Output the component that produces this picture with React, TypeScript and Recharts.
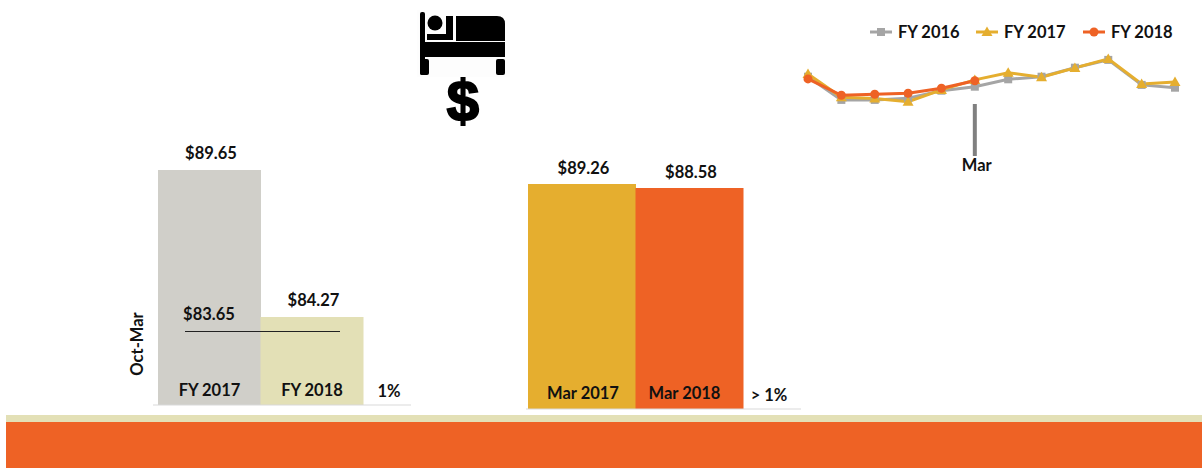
import React from 'react';
import {
    BarChart, Bar, LineChart, Line, XAxis, YAxis, Cell, LabelList, Legend, ReferenceLine,
} from 'recharts';

const FONT = 'Lato, sans-serif';
const INK = '#111111';
const W = 1202;
const H = 468;

// Oct-Mar bars
const periodCategories = ['FY 2017', 'FY 2018'];
const periodValues = [89.65, 84.27];
const periodColors = ['#D0CFC9', '#E3E0B6'];
const periodTarget = 83.65;

// March bars
const marchCategories = ['Mar 2017', 'Mar 2018'];
const marchValues = [89.26, 88.58];
const marchColors = ['#E5AE2F', '#EE6225'];

// Monthly trend
const months = ['Oct', 'Nov', 'Dec', 'Jan', 'Feb', 'Mar', 'Apr', 'May', 'Jun', 'Jul', 'Aug', 'Sep'];
const fy2016 = [90.9, 79.3, 79.3, 80.1, 83.9, 85.9, 89.6, 90.9, 95.4, 99.3, 86.8, 85.4];
const fy2017 = [92.3, 80.6, 80.0, 78.4, 84.3, 89.3, 92.9, 90.6, 95.3, 99.8, 87.3, 88.3];
const fy2018 = [89.8, 81.6, 82.1, 82.6, 85.1, 88.9];

const GRAY = '#A5A5A5';
const YELLOW = '#E5AE2F';
const ORANGE = '#EE6225';

const periodData = periodCategories.map((name, i) => ({ name, value: periodValues[i] }));
const marchData = marchCategories.map((name, i) => ({ name, value: marchValues[i] }));
const trendData = months.map((month, i) => ({
    month,
    'FY 2016': fy2016[i],
    'FY 2017': fy2017[i],
    'FY 2018': fy2018[i] ?? null,
}));

const labelStyle = { fill: INK, fontSize: 16.5, fontWeight: 700, fontFamily: FONT };
const money = (v: any) => `$${Number(v).toFixed(2)}`;
const layer: React.CSSProperties = { position: 'absolute', left: 0, top: 0 };

/* Markers */
const SquareDot = ({ cx, cy }: any) => <rect x={cx - 4} y={cy - 4} width={8} height={8} fill={GRAY} />;
const TriangleDot = ({ cx, cy }: any) => <path d={`M${cx} ${cy - 5.5}L${cx + 5.5} ${cy + 4}L${cx - 5.5} ${cy + 4}Z`} fill={YELLOW} />;
const CircleDot = ({ cx, cy, value }: any) => (value == null ? <g /> : <circle cx={cx} cy={cy} r={4.5} fill={ORANGE} />);

const legendItems = [
    { name: 'FY 2016', color: GRAY, left: 870, mark: <rect x={7} y={2} width={8} height={8} fill={GRAY} /> },
    { name: 'FY 2017', color: YELLOW, left: 976, mark: <path d="M11 0.5L16.5 10L5.5 10Z" fill={YELLOW} /> },
    { name: 'FY 2018', color: ORANGE, left: 1083, mark: <circle cx={11} cy={6} r={4.5} fill={ORANGE} /> },
];

/* Zero height so the legend takes nothing from the plot area */
const TrendLegend = () => (
    <div style={{ position: 'relative', height: 0 }}>
        {legendItems.map(item => (
            <div key={item.name} style={{ position: 'absolute', left: item.left, top: 0, display: 'flex', alignItems: 'center', gap: 6, height: 24 }}>
                <svg width={22} height={12}>
                    <line x1={0} x2={22} y1={6} y2={6} stroke={item.color} strokeWidth={3} />
                    {item.mark}
                </svg>
                <span style={{ fontFamily: FONT, fontWeight: 700, fontSize: 16.5, color: INK, whiteSpace: 'nowrap' }}>{item.name}</span>
            </div>
        ))}
    </div>
);

/* Target line runs past the bar centres, with its own label */
const TargetLine = ({ x1, x2, y1 }: any) => {
    const y = Math.round(y1 - 3) + 0.5;
    return (
        <g>
            <line x1={x1 + 32} x2={x2 - 71} y1={y} y2={y} stroke="#222222" strokeWidth={1} />
            <text x={209} y={y - 12} textAnchor="middle" style={labelStyle}>{money(periodTarget)}</text>
        </g>
    );
};

/* The second March caption sits a little left of its bar centre */
const MarchCaption = ({ x, y, width, height, value, index }: any) => (
    <text x={x + width / 2 + (index === 1 ? -5 : 1)} y={y + height - 10} textAnchor="middle" style={labelStyle}>{value}</text>
);

const BedIcon = () => (
    <svg width={W} height={H} style={layer}>
        <rect x={417} y={10} width={93} height={67} fill="#FDFDFD" />
        <rect x={420} y={12} width={5} height={63} rx={2} fill="#000" />
        <circle cx={435} cy={23} r={7.5} fill="#000" />
        <path d="M427 34H446V16H453V40H427Z" fill="#000" />
        <path d="M456 16H497Q505 16 505 24V41H456Z" fill="#000" />
        <rect x={420} y={42} width={85} height={15} fill="#000" />
        <rect x={420} y={59} width={9} height={16} rx={2} fill="#000" />
        <rect x={496} y={59} width={9} height={16} rx={2} fill="#000" />
        <text x={463} y={121} textAnchor="middle" fill="#000" stroke="#000" strokeWidth={2}
            style={{ fontFamily: '"Liberation Sans", sans-serif', fontSize: 58, fontWeight: 700 }}>$</text>
    </svg>
);

const Annotations = () => (
    <svg width={W} height={H} style={layer}>
        <text x={389} y={397} textAnchor="middle" style={labelStyle}>1%</text>
        <text x={769} y={401} textAnchor="middle" style={labelStyle}>{'> 1%'}</text>
        <text transform="translate(143 344) rotate(-90)" textAnchor="middle" style={labelStyle}>Oct-Mar</text>
    </svg>
);

export default function App() {
    return (
        <div style={{ position: 'absolute', left: 0, top: 0, width: W, height: H, overflow: 'hidden', background: '#fff' }}>
            <BedIcon />

            <div style={layer}>
                <BarChart width={W} height={H} data={periodData} barCategoryGap={0}
                    margin={{ top: 131.8, right: W - 411, bottom: H - 405 - 1, left: 153 }}>
                    <XAxis dataKey="name" height={1} tick={false} tickLine={false} padding={{ left: 5, right: 48 }}
                        axisLine={{ stroke: '#D9D9D9', strokeWidth: 1 }} />
                    <YAxis hide domain={[81.05, 91.05]} />
                    <Bar dataKey="value" isAnimationActive={false}>
                        {periodData.map((d, i) => <Cell key={d.name} fill={periodColors[i]} />)}
                        <LabelList dataKey="value" position="top" offset={11} dx={1.5} formatter={money} style={labelStyle} />
                        <LabelList dataKey="name" position="insideBottom" offset={9} style={labelStyle} />
                    </Bar>
                    <ReferenceLine y={periodTarget} shape={TargetLine} />
                </BarChart>
            </div>

            <div style={layer}>
                <BarChart width={W} height={H} data={marchData} barCategoryGap={0}
                    margin={{ top: 179.8, right: W - 801, bottom: H - 409 - 1, left: 526 }}>
                    <XAxis dataKey="name" height={1} tick={false} tickLine={false} padding={{ left: 2, right: 58 }}
                        axisLine={{ stroke: '#D9D9D9', strokeWidth: 1 }} />
                    <YAxis hide domain={[50, 90]} />
                    <Bar dataKey="value" isAnimationActive={false}>
                        {marchData.map((d, i) => <Cell key={d.name} fill={marchColors[i]} />)}
                        <LabelList dataKey="value" position="top" offset={10} dx={1.5} formatter={money} style={labelStyle} />
                        <LabelList dataKey="name" content={MarchCaption} />
                    </Bar>
                </BarChart>
            </div>

            <div style={layer}>
                <LineChart width={W} height={H} data={trendData}
                    margin={{ top: 38.5, right: W - 1175, bottom: H - 158.5 - 20, left: 808 }}>
                    <XAxis dataKey="month" ticks={['Mar']} interval={0} height={20} axisLine={false} tickLine={false}
                        tick={{ ...labelStyle, dx: 2, dy: -5 }} tickMargin={0} />
                    <YAxis hide domain={[50, 110]} />
                    <Legend content={TrendLegend} verticalAlign="top" wrapperStyle={{ left: 0, top: 20, width: W }} />
                    <ReferenceLine segment={[{ x: 'Mar', y: 77.26 }, { x: 'Mar', y: 51.26 }]} stroke="#808080" strokeWidth={4} />
                    <Line dataKey="FY 2016" stroke={GRAY} strokeWidth={3} dot={SquareDot} isAnimationActive={false} />
                    <Line dataKey="FY 2017" stroke={YELLOW} strokeWidth={3} dot={TriangleDot} isAnimationActive={false} />
                    <Line dataKey="FY 2018" stroke={ORANGE} strokeWidth={3} dot={CircleDot} isAnimationActive={false} />
                </LineChart>
            </div>

            <Annotations />

            <div style={{ position: 'absolute', left: 6, top: 415, width: W - 6, height: 7, background: '#E3E0B6' }} />
            <div style={{ position: 'absolute', left: 6, top: 422, width: W - 6, height: 46, background: '#EE6225' }} />
        </div>
    );
}
